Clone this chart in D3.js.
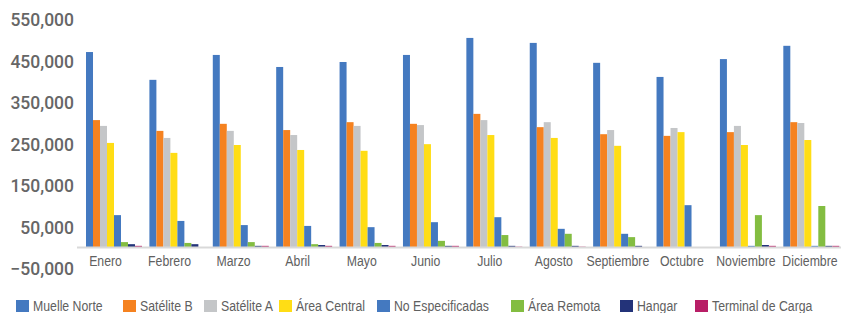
<!DOCTYPE html>
<html>
<head>
<meta charset="utf-8">
<script src="https://cdn.jsdelivr.net/npm/d3@7"></script>
<style>
  body { margin: 0; background: #fff; }
  svg { display: block; }
  .ylab text { font-family: Roboto, "Liberation Sans", sans-serif; font-weight: 500; font-size: 17.5px; fill: #666; }
  .xlab text { font-family: "Liberation Sans", sans-serif; font-size: 15px; fill: #606060; }
  .legend text { font-family: "Liberation Sans", sans-serif; font-size: 15px; fill: #606060; }
</style>
</head>
<body>
<div id="chart"></div>
<script>
// meses y series (pasajeros por zona)
var months = ["Enero", "Febrero", "Marzo", "Abril", "Mayo", "Junio", "Julio", "Agosto", "Septiembre", "Octubre", "Noviembre", "Diciembre"];
var seriesNames = ["Muelle Norte", "Satélite B", "Satélite A", "Área Central", "No Especificadas", "Área Remota", "Hangar", "Terminal de Carga"];
var muelleNorte     = [471000, 404000, 464000, 435000, 447000, 464000, 505000, 493000, 445000, 411000, 454000, 486000];
var sateliteB       = [307000, 281000, 298000, 283000, 302000, 298000, 322000, 290000, 273000, 269000, 278000, 302000];
var sateliteA       = [293000, 264000, 281000, 271000, 293000, 295000, 307000, 302000, 283000, 288000, 293000, 300000];
var areaCentral     = [252000, 228000, 247000, 235000, 233000, 249000, 271000, 264000, 245000, 278000, 247000, 259000];
var noEspecificadas = [78000, 64000, 54000, 52000, 49000, 61000, 73000, 45000, 33000, 102000, 4000, 4000];
var areaRemota      = [13000, 11000, 13000, 8000, 11000, 16000, 30000, 33000, 25000, 0, 78000, 100000];
var hangar          = [8000, 8000, 4000, 6000, 6000, 4000, 4000, 4000, 4000, 0, 6000, 4000];
var terminalCarga   = [4000, 0, 4000, 4000, 4000, 4000, 2000, 2000, 0, 0, 4000, 4000];
var yTicks = [-50000, 50000, 150000, 250000, 350000, 450000, 550000];
var colors = ["#4479c0", "#f58220", "#c4c6c8", "#ffdd15", "#4479c0", "#83bd41", "#233379", "#b81e66"];

var seriesValues = [muelleNorte, sateliteB, sateliteA, areaCentral, noEspecificadas, areaRemota, hangar, terminalCarga];

var w = 841, h = 313;
var narrow = 0.82; // el texto original usa una fuente condensada
var svg = d3.select("#chart").append("svg")
    .attr("width", w)
    .attr("height", h);

var x0 = d3.scaleBand()
    .domain(months)
    .range([82.3, 843])
    .paddingInner(0.117)
    .paddingOuter(0.0585);

// las etiquetas de mes van un poco desplazadas respecto a las barras
var xLabel = d3.scaleBand()
    .domain(months)
    .range([73.5, 842]);

var x1 = d3.scaleBand()
    .domain(seriesNames)
    .range([0, x0.bandwidth()]);

var y = d3.scaleLinear()
    .domain([-50000, 550000])
    .range([268.25, 19.25]);

// barras
var groups = svg.append("g").selectAll("g")
    .data(months)
    .enter()
    .append("g")
    .attr("transform", (d) => "translate(" + x0(d) + ",0)");

groups.selectAll("rect")
    .data((m, i) => seriesNames.map((s, j) => ({ s: s, v: seriesValues[j][i], c: colors[j] })))
    .enter()
    .append("rect")
    .attr("x", (d) => x1(d.s))
    .attr("width", x1.bandwidth())
    .attr("y", (d) => Math.min(y(d.v), y(0)))
    .attr("height", (d) => Math.abs(y(0) - y(d.v)))
    .attr("fill", (d) => d.c);

// linea base
svg.append("line")
    .attr("x1", 77)
    .attr("x2", w)
    .attr("y1", y(0))
    .attr("y2", y(0))
    .attr("stroke", "#d9d9d9")
    .attr("stroke-width", 2);

// eje y
var yAxis = svg.append("g")
    .attr("class", "ylab")
    .attr("transform", "translate(74,0)")
    .call(d3.axisLeft(y).tickValues(yTicks).tickFormat(d3.format(",")).tickSize(0).tickPadding(0));
yAxis.select(".domain").remove();
yAxis.selectAll("text").attr("dy", "0.36em");

// eje x
var xAxis = svg.append("g")
    .attr("class", "xlab")
    .attr("transform", "translate(0," + y(0) + ")")
    .call(d3.axisBottom(xLabel).tickSize(0).tickPadding(8));
xAxis.select(".domain").remove();
xAxis.selectAll("text").attr("transform", "scale(" + narrow + ",1)");

// leyenda
var legendX = [16, 123, 204, 279, 377, 511, 620, 695];
var legend = svg.append("g")
    .attr("class", "legend")
    .selectAll("g")
    .data(seriesNames)
    .enter()
    .append("g")
    .attr("transform", (d, i) => "translate(" + legendX[i] + ",300)");

legend.append("rect")
    .attr("width", 13)
    .attr("height", 12)
    .attr("fill", (d, i) => colors[i]);

legend.append("text")
    .attr("transform", "translate(17,11) scale(" + narrow + ",1)")
    .text((d) => d);
</script>
</body>
</html>
